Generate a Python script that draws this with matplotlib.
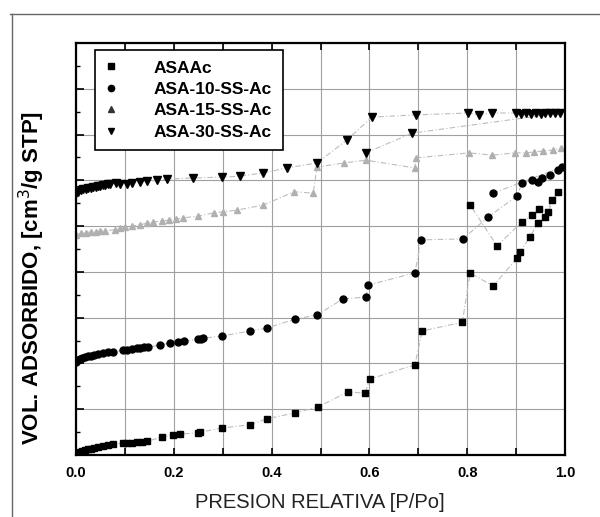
import matplotlib
matplotlib.use("Agg")
import matplotlib.pyplot as plt
from matplotlib.lines import Line2D
import numpy as np

plt.rcParams['font.family'] = ['Liberation Sans', 'DejaVu Sans']

# N2 isotherms (offset curves), relative pressure vs adsorbed volume
asaac_x = [0.0, 0.004, 0.008, 0.013, 0.018, 0.024, 0.03, 0.037, 0.045, 0.055, 0.065, 0.075,
           0.096, 0.105, 0.115, 0.125, 0.135, 0.145, 0.176, 0.198, 0.213, 0.25, 0.254, 0.299,
           0.356, 0.39, 0.448, 0.495, 0.556, 0.591, 0.601, 0.693, 0.708, 0.79, 0.806, 0.853,
           0.902, 0.908, 0.928, 0.945, 0.959, 0.973, 0.986,
           0.965, 0.947, 0.933, 0.912, 0.861, 0.806]
asaac_y = [0.0, 0.04, 0.07, 0.09, 0.11, 0.13, 0.14, 0.16, 0.18, 0.2, 0.22, 0.23,
           0.26, 0.27, 0.27, 0.28, 0.29, 0.3, 0.39, 0.44, 0.46, 0.48, 0.5, 0.59,
           0.66, 0.79, 0.92, 1.05, 1.38, 1.35, 1.66, 1.97, 2.71, 2.9, 3.98, 3.69,
           4.3, 4.43, 4.76, 5.07, 5.2, 5.57, 5.74,
           5.31, 5.37, 5.24, 5.09, 4.57, 5.46]

asa10_x = [0.0, 0.004, 0.008, 0.013, 0.018, 0.024, 0.03, 0.037, 0.045, 0.055, 0.065, 0.075,
           0.096, 0.105, 0.115, 0.125, 0.131, 0.14, 0.147, 0.172, 0.192, 0.209, 0.22, 0.25,
           0.255, 0.26, 0.299, 0.356, 0.39, 0.448, 0.493, 0.546, 0.593, 0.597, 0.693, 0.706,
           0.791, 0.843, 0.902, 0.912, 0.933, 0.945, 0.953, 0.969, 0.986, 0.994, 0.853]
asa10_y = [2.03, 2.07, 2.1, 2.12, 2.14, 2.16, 2.17, 2.19, 2.2, 2.22, 2.24, 2.25,
           2.29, 2.3, 2.31, 2.33, 2.34, 2.35, 2.36, 2.4, 2.45, 2.47, 2.48, 2.53,
           2.54, 2.55, 2.6, 2.71, 2.77, 2.97, 3.06, 3.41, 3.45, 3.71, 3.98, 4.7,
           4.72, 5.2, 5.66, 5.94, 6.01, 5.96, 6.05, 6.12, 6.23, 6.29, 5.72]

asa15_x = [0.0, 0.01, 0.02, 0.03, 0.04, 0.05, 0.06, 0.079, 0.09, 0.1, 0.115, 0.13, 0.145,
           0.157, 0.175, 0.19, 0.205, 0.219, 0.25, 0.282, 0.3, 0.329, 0.383, 0.446, 0.485,
           0.493, 0.548, 0.593, 0.693, 0.695, 0.804, 0.851, 0.898, 0.92, 0.937, 0.955,
           0.976, 0.992]
asa15_y = [4.81, 4.84, 4.86, 4.87, 4.88, 4.89, 4.9, 4.92, 4.95, 4.97, 5.0, 5.03, 5.06,
           5.09, 5.11, 5.13, 5.15, 5.18, 5.22, 5.29, 5.31, 5.35, 5.46, 5.75, 5.72,
           6.29, 6.38, 6.44, 6.27, 6.49, 6.6, 6.55, 6.6, 6.6, 6.62, 6.64,
           6.66, 6.71]

asa30_x = [0.0, 0.005, 0.01, 0.015, 0.02, 0.025, 0.03, 0.035, 0.04, 0.045, 0.05, 0.055,
           0.06, 0.065, 0.07, 0.082, 0.09, 0.104, 0.115, 0.131, 0.145, 0.166, 0.186, 0.239,
           0.299, 0.335, 0.382, 0.431, 0.493, 0.554, 0.605, 0.695, 0.801, 0.824, 0.851,
           0.9, 0.91, 0.92, 0.93, 0.94, 0.95, 0.96, 0.97, 0.98, 0.99, 0.687, 0.593]
asa30_y = [5.72, 5.75, 5.78, 5.8, 5.81, 5.83, 5.84, 5.85, 5.86, 5.87, 5.88, 5.89,
           5.9, 5.91, 5.92, 5.94, 5.93, 5.92, 5.95, 5.96, 5.98, 6.0, 6.03, 6.05,
           6.07, 6.09, 6.16, 6.27, 6.38, 6.88, 7.38, 7.43, 7.47, 7.43, 7.47,
           7.47, 7.45, 7.47, 7.44, 7.47, 7.45, 7.47, 7.46, 7.48, 7.47, 7.03, 6.6]

labels = ["ASAAc", "ASA-10-SS-Ac", "ASA-15-SS-Ac", "ASA-30-SS-Ac"]
x_ticks = [0.0, 0.1, 0.2, 0.3, 0.4, 0.5, 0.6, 0.7, 0.8, 0.9, 1.0]
x_ticklabels = ["0.0", "", "0.2", "", "0.4", "", "0.6", "", "0.8", "", "1.0"]

W, H = 600, 517
fig = plt.figure(figsize=(W / 100, H / 100), dpi=100)
fig.patch.set_facecolor('white')

ax = fig.add_axes([76 / W, 1 - 455 / H, (565 - 76) / W, (455 - 43) / H])

# grid
ax.set_xlim(0, 1.0)
ax.set_ylim(0, 9)
ax.set_xticks(x_ticks)
ax.set_xticklabels(x_ticklabels, fontsize=10.5, fontweight='bold')
ax.set_yticks(np.arange(0, 10, 1))
ax.set_yticks(np.arange(0.5, 9, 1), minor=True)
ax.set_yticklabels([])
ax.grid(True, which='major', color='#a0a0a0', lw=0.8)
ax.set_axisbelow(True)
ax.tick_params(axis='x', direction='in', length=5, width=1.2, top=True, pad=8)
ax.tick_params(axis='y', which='major', direction='in', length=6, width=1.2)
ax.tick_params(axis='y', which='minor', direction='in', length=3, width=1.0)
for s in ax.spines.values():
    s.set_linewidth(1.6)
    s.set_color('black')

line_kw = dict(color='#bdbdbd', lw=0.8, ls=(0, (5, 2, 1, 2)))
ax.plot(asaac_x, asaac_y, marker='s', ms=5, mfc='black', mec='black', **line_kw)
ax.plot(asa10_x, asa10_y, marker='o', ms=5, mfc='black', mec='black', **line_kw)
ax.plot(asa15_x, asa15_y, marker='^', ms=5, mfc='#b0b0b0', mec='#b0b0b0', **line_kw)
ax.plot(asa30_x, asa30_y, marker='v', ms=6, mfc='black', mec='black', **line_kw)

# legend handles keep only the symbol
handles = [Line2D([], [], ls='none', marker='s', ms=4.5, color='black'),
           Line2D([], [], ls='none', marker='o', ms=4.5, color='black'),
           Line2D([], [], ls='none', marker='^', ms=4.5, color='#333333'),
           Line2D([], [], ls='none', marker='v', ms=5, color='black')]
leg = ax.legend(handles, labels, loc='upper left',
                bbox_to_anchor=((95 - 76) / 489, (455 - 50) / 412),
                borderaxespad=0, handlelength=0.6,
                prop={'size': 12.5, 'weight': 'bold'},
                handletextpad=2.2, labelspacing=0.36, borderpad=0.6,
                fancybox=False, framealpha=1, edgecolor='black')
leg.get_frame().set_linewidth(1.2)

fig.text(320 / W, 1 - 502 / H, "PRESION RELATIVA [P/Po]", ha='center', va='center',
         fontsize=14.5, color='#222222')
fig.text(32 / W, 1 - 278 / H, "VOL. ADSORBIDO, [cm$^3$/g STP]", ha='center',
         va='center', rotation=90, fontsize=16, fontweight='bold')

# page frame around the figure
fig.add_artist(Line2D([10 / W, 1.0], [1 - 14 / H, 1 - 14 / H], color='#666666', lw=1.0))
fig.add_artist(Line2D([12 / W, 12 / W], [0.0, 1 - 14 / H], color='#666666', lw=1.0))

fig.savefig("out.png", dpi=100)
